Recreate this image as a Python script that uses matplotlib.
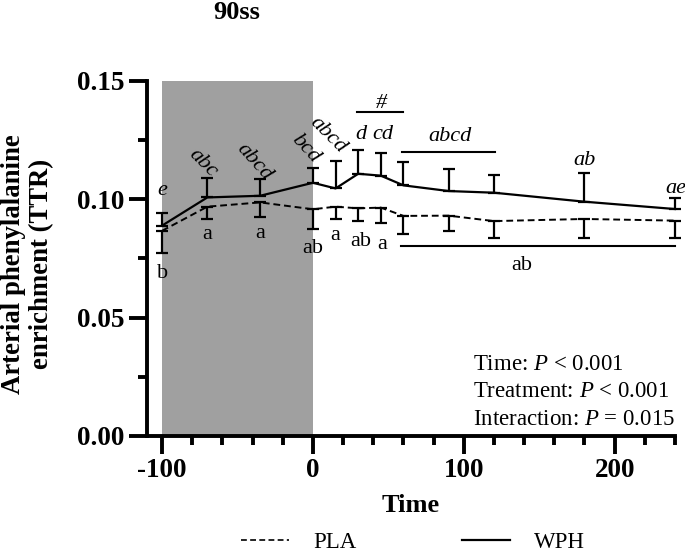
import matplotlib
matplotlib.use("Agg")
import matplotlib.pyplot as plt
from matplotlib.lines import Line2D
from matplotlib.ticker import FixedLocator

plt.rcParams["font.family"] = ["Liberation Serif", "DejaVu Serif"]
plt.rcParams["mathtext.fontset"] = "custom"
plt.rcParams["mathtext.it"] = "Liberation Serif:italic"
plt.rcParams["mathtext.rm"] = "Liberation Serif"

# time points (min)
time = [-100, -70, -35, 0, 15, 30, 45, 60, 90, 120, 180, 240]
# WPH mean and upper SD
wph_mean = [0.0889, 0.1008, 0.1015, 0.1070, 0.1046, 0.1108, 0.1100, 0.1059, 0.1035, 0.1028, 0.0990, 0.0959]
wph_err = [0.0052, 0.0081, 0.0070, 0.0064, 0.0117, 0.0100, 0.0094, 0.0100, 0.0093, 0.0075, 0.0123, 0.0045]
# PLA mean and lower SD
pla_mean = [0.0867, 0.0969, 0.0987, 0.0958, 0.0969, 0.0962, 0.0965, 0.0930, 0.0931, 0.0908, 0.0917, 0.0910]
pla_err = [0.0093, 0.0052, 0.0060, 0.0083, 0.0052, 0.0052, 0.0066, 0.0077, 0.0064, 0.0070, 0.0079, 0.0072]

# letters above WPH (italic) and below PLA
wph_letters = [("e", -100, 0.1036, 0), ("abc", -73, 0.1152, -45), ("abcd", -39, 0.1159, -48),
               ("bcd", -5, 0.1215, -47), ("abcd", 10, 0.1272, -45), ("d", 31.6, 0.1276, 0),
               ("cd", 46.5, 0.1272, 0), ("ab", 180, 0.1163, 0), ("ae", 240.5, 0.1046, 0)]
pla_letters = [("b", -100, 0.0687), ("a", -70, 0.0853), ("a", -35, 0.0856), ("ab", 0, 0.0793),
               ("a", 15, 0.0849), ("ab", 32, 0.0821), ("a", 45.6, 0.0811)]

yticks = [0, 0.05, 0.10, 0.15]
ytick_labels = ["0.00", "0.05", "0.10", "0.15"]
xticks = [-100, 0, 100, 200]
xtick_labels = ["-100", "0", "100", "200"]

fig = plt.figure(figsize=(6.85, 5.54), dpi=100)
ax = fig.add_axes([0.2146, 0.213, 0.7708, 0.6408])

ax.axvspan(-100, 0, ymin=0, ymax=1, color="#a0a0a0", lw=0, zorder=0)

ax.errorbar(time, wph_mean, yerr=[[0] * len(time), wph_err], color="black", lw=1.6,
            elinewidth=1.6, capsize=4.5, capthick=1.6, clip_on=False, zorder=3)
ax.errorbar(time, pla_mean, yerr=[pla_err, [0] * len(time)], color="black", lw=1.4,
            linestyle=(0, (3.5, 2)), elinewidth=1.6, capsize=4.5, capthick=1.6,
            clip_on=False, zorder=3)

for txt, x, y, rot in wph_letters:
    ax.text(x, y, txt, style="italic", fontsize=16, ha="center", va="center",
            rotation=rot, clip_on=False)
for txt, x, y in pla_letters:
    ax.text(x, y, txt, fontsize=16, ha="center", va="center")

# group bars
ax.plot([29, 60], [0.1368, 0.1368], color="black", lw=1.5)
ax.text(45.5, 0.1406, "#", style="italic", fontsize=16, ha="center", va="center")
ax.plot([59.3, 121], [0.1201, 0.1201], color="black", lw=1.5)
ax.text(91, 0.1267, "abcd", style="italic", fontsize=16, ha="center", va="center")
ax.plot([58.7, 240], [0.0804, 0.0804], color="black", lw=1.5, clip_on=False)
ax.text(138.5, 0.0722, "ab", fontsize=16, ha="center", va="center")

ax.text(106, 0.0300, "Time: $P$ < 0.001", fontsize=16.5, va="center")
ax.text(106, 0.0187, "Treatment: $P$ < 0.001", fontsize=16.5, va="center")
ax.text(106, 0.0068, "Interaction: $P$ = 0.015", fontsize=16.5, va="center")

ax.set_xlim(-110, 240)
ax.set_ylim(0, 0.15)
ax.spines["top"].set_visible(False)
ax.spines["right"].set_visible(False)
for s in ("left", "bottom"):
    ax.spines[s].set_linewidth(2.8)
ax.xaxis.set_major_locator(FixedLocator(xticks))
ax.xaxis.set_minor_locator(FixedLocator(list(range(-80, 241, 20))))
ax.yaxis.set_major_locator(FixedLocator(yticks))
ax.yaxis.set_minor_locator(FixedLocator([0.025, 0.075, 0.125]))
ax.tick_params(which="major", length=13, width=2.8, labelsize=19.5, pad=3)
ax.tick_params(which="minor", length=6.5, width=2.8)
ax.set_yticklabels(ytick_labels, fontweight="bold")
ax.set_xticklabels(xtick_labels, fontweight="bold")

ax.set_xlabel("Time", fontsize=19, fontweight="bold", labelpad=8)
fig.text(27.5 / 685, 1 - 264 / 554, "Arterial phenylalanine\nenrichment (TTR)", fontsize=19.3,
         fontweight="bold", rotation=90, ha="center", va="center", multialignment="center",
         linespacing=1.15)

fig.text(0.3456, 0.977, "90ss", fontsize=19, fontweight="bold", ha="center", va="center")

handles = [Line2D([], [], color="black", lw=1.2, linestyle=(0, (3.5, 2))),
           Line2D([], [], color="black", lw=1.6)]
fig.legend(handles, ["PLA", "WPH"], loc="center", bbox_to_anchor=(0.603, 0.02), ncol=2,
           frameon=False, fontsize=16.5, handlelength=2.1, handletextpad=1.05, columnspacing=4.6)

fig.savefig("out.png", dpi=100)
